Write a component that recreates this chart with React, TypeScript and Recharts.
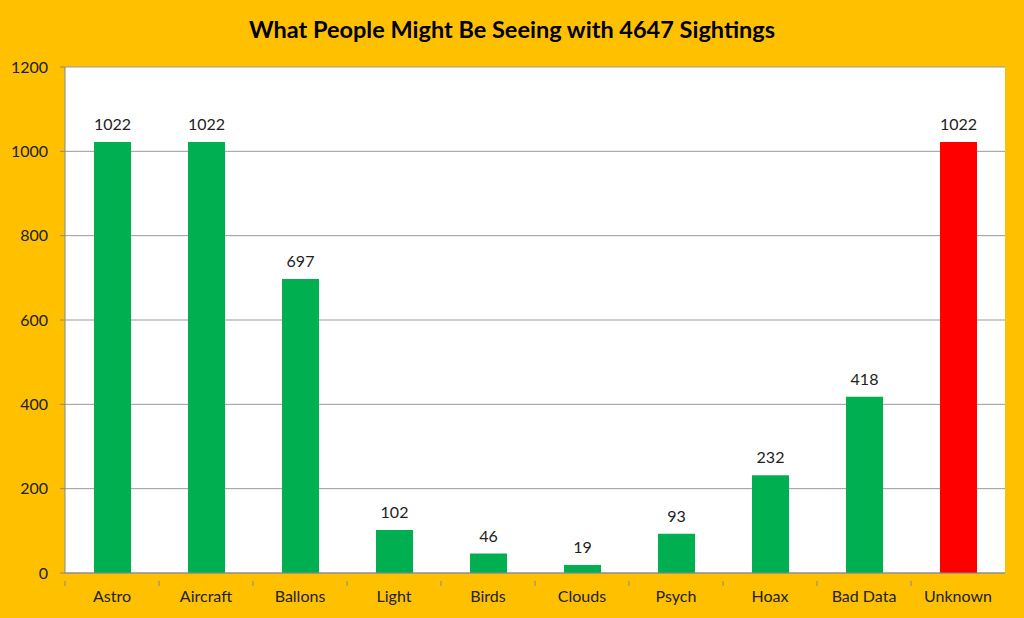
import { BarChart, Bar, XAxis, YAxis, CartesianGrid, Cell, LabelList } from "recharts";

const categories = ["Astro", "Aircraft", "Ballons", "Light", "Birds", "Clouds", "Psych", "Hoax", "Bad Data", "Unknown"];
const sightings = [1022, 1022, 697, 102, 46, 19, 93, 232, 418, 1022];
const barColors = ["#00B050", "#00B050", "#00B050", "#00B050", "#00B050", "#00B050", "#00B050", "#00B050", "#00B050", "#FF0000"];
const yTicks = [0, 200, 400, 600, 800, 1000, 1200];

const data = categories.map((name, i) => ({ name, value: sightings[i] }));

const FONT = "Lato, 'Open Sans', sans-serif";

function CategoryTick(props: any) {
  const { x, y, payload } = props;
  const half = 47;
  return (
    <g>
      <line x1={x - half} y1={y} x2={x - half} y2={y + 5} stroke="#888" />
      <text x={x} y={y + 21} textAnchor="middle" fontSize={16} fill="#222" fontFamily={FONT}>
        {payload.value}
      </text>
    </g>
  );
}

export default function App() {
  return (
    <div style={{ position: "fixed", left: 0, top: 0, width: 1024, height: 618, background: "#FFC000" }}>
      <div
        style={{
          position: "absolute",
          top: 15,
          left: 0,
          width: 1024,
          textAlign: "center",
          fontFamily: FONT,
          fontWeight: 700,
          fontSize: 23.5,
          color: "#000",
        }}
      >
        What People Might Be Seeing with 4647 Sightings
      </div>
      <BarChart width={1024} height={618} data={data} margin={{ top: 67, right: 19, bottom: 15, left: 0 }} barSize={37}>
        <CartesianGrid vertical={false} stroke="#999" fill="#FFFFFF" fillOpacity={1} />
        <XAxis
          dataKey="name"
          height={30}
          stroke="#888"
          tickLine={false}
          tick={<CategoryTick />}
          interval={0}
        />
        <YAxis
          width={65}
          domain={[0, 1200]}
          ticks={yTicks}
          stroke="#888"
          tickSize={5}
          tickMargin={12}
          tick={{ fontSize: 16, fill: "#222", fontFamily: FONT }}
        />
        <Bar dataKey="value" isAnimationActive={false}>
          {data.map((d, i) => (
            <Cell key={d.name} fill={barColors[i]} />
          ))}
          <LabelList dataKey="value" position="top" offset={12} fontSize={16} fill="#222" fontFamily={FONT} />
        </Bar>
      </BarChart>
    </div>
  );
}
